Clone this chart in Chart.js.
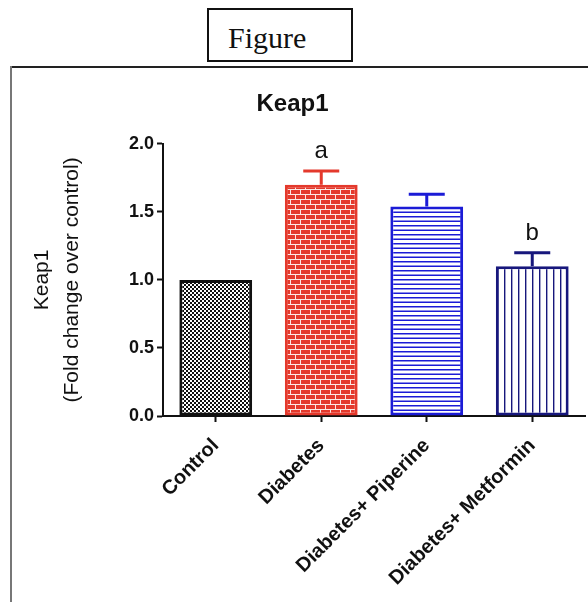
<!DOCTYPE html>
<html>
<head>
<meta charset="utf-8">
<script src="https://cdn.jsdelivr.net/npm/chart.js@4.4.0/dist/chart.umd.min.js"></script>
<style>
body { margin: 0; background: #fff; }
#wrap { position: relative; width: 588px; height: 602px; overflow: hidden; }
.figbox { position: absolute; left: 207px; top: 8px; width: 142px; height: 50px; border: 2px solid #111; font-family: "Liberation Serif", "Times New Roman", serif; font-size: 30px; line-height: 1; color: #111; }
.figbox span { position: absolute; left: 19px; top: 13px; }
.topline { position: absolute; left: 10px; top: 66px; width: 578px; height: 2px; background: #222; }
.leftline { position: absolute; left: 10px; top: 66px; width: 2px; height: 536px; background: #777; }
canvas { position: absolute; left: 0; top: 0; }
</style>
</head>
<body>
<div id="wrap">
  <div class="figbox"><span>Figure</span></div>
  <div class="topline"></div>
  <div class="leftline"></div>
  <canvas id="myChart" width="588" height="602"></canvas>
</div>
<script>
const categories = ["Control", "Diabetes", "Diabetes+ Piperine", "Diabetes+ Metformin"];
const foldChange = [1.0, 1.70, 1.54, 1.10];
const sem = [0, 0.10, 0.09, 0.10];
const sigLetters = ["", "a", "", "b"];
const yTicks = [0, 0.5, 1.0, 1.5, 2.0];
const barColors = ["#111111", "#e4392c", "#1b1bd6", "#17177c"];
const fillKinds = ["checker", "brick", "hlines", "vlines"];

function makePattern(kind, color) {
	const c = document.createElement("canvas");
	const g = c.getContext("2d");
	if (kind === "checker") {
		c.width = 4; c.height = 4;
		g.fillStyle = "#fff"; g.fillRect(0, 0, 4, 4);
		g.fillStyle = color;
		g.fillRect(0, 0, 2, 2); g.fillRect(2, 2, 2, 2);
	} else if (kind === "brick") {
		c.width = 20; c.height = 10;
		g.fillStyle = color; g.fillRect(0, 0, 20, 10);
		g.fillStyle = "#fde8e4";
		g.fillRect(0, 4, 20, 1); g.fillRect(0, 9, 20, 1);
		g.fillRect(0, 0, 1, 4); g.fillRect(10, 0, 1, 4);
		g.fillRect(5, 5, 1, 4); g.fillRect(15, 5, 1, 4);
	} else if (kind === "hlines") {
		c.width = 4; c.height = 9;
		g.fillStyle = "#fff"; g.fillRect(0, 0, 4, 9);
		g.fillStyle = color;
		g.fillRect(0, 0, 4, 1.5); g.fillRect(0, 4.5, 4, 1.5);
	} else {
		c.width = 7; c.height = 4;
		g.fillStyle = "#fff"; g.fillRect(0, 0, 7, 4);
		g.fillStyle = color;
		g.fillRect(0, 0, 1.4, 4);
	}
	return g.createPattern(c, "repeat");
}

const errorBars = {
	id: "errorBars",
	afterDatasetsDraw(chart) {
		const { ctx, scales: { y } } = chart;
		const meta = chart.getDatasetMeta(0);
		ctx.save();
		meta.data.forEach((bar, i) => {
			const top = y.getPixelForValue(foldChange[i] + sem[i]);
			if (sem[i]) {
				ctx.strokeStyle = barColors[i];
				ctx.lineWidth = 3;
				ctx.beginPath();
				ctx.moveTo(bar.x, bar.y);
				ctx.lineTo(bar.x, top);
				ctx.moveTo(bar.x - 18, top);
				ctx.lineTo(bar.x + 18, top);
				ctx.stroke();
			}
			if (sigLetters[i]) {
				ctx.fillStyle = "#111";
				ctx.font = "24px 'Liberation Sans', Arial, sans-serif";
				ctx.textAlign = "center";
				ctx.textBaseline = "alphabetic";
				ctx.fillText(sigLetters[i], bar.x, top - 13);
			}
		});
		ctx.restore();
	},
};

const ctx = document.getElementById("myChart");

const myChart = new Chart(ctx, {
	type: "bar",
	plugins: [errorBars],
	data: {
		labels: categories,
		datasets: [
			{
				label: "Keap1",
				data: foldChange,
				backgroundColor: fillKinds.map((k, i) => makePattern(k, barColors[i])),
				borderColor: barColors,
				borderWidth: 3,
				borderSkipped: false,
				categoryPercentage: 1,
				barPercentage: 0.69,
			},
		],
	},
	options: {
		responsive: false,
		animation: false,
		devicePixelRatio: 1,
		layout: {
			padding: { top: 80, left: 0, right: 3, bottom: 15 },
		},
		plugins: {
			legend: { display: false },
			tooltip: { enabled: false },
			title: {
				display: true,
				text: "Keap1",
				color: "#111",
				font: { family: "'Liberation Sans', Arial, sans-serif", size: 24, weight: "bold", lineHeight: 1.2 },
				padding: { top: 10, bottom: 25 },
			},
		},
		scales: {
			x: {
				offset: true,
				grid: { display: true, offset: false, drawOnChartArea: false, drawTicks: true, tickLength: 6, tickWidth: 2, tickColor: "#111" },
				border: { display: true, color: "#111", width: 2 },
				ticks: {
					color: "#111",
					autoSkip: false,
					maxRotation: 45,
					minRotation: 45,
					padding: 12,
					font: { family: "'Liberation Sans', Arial, sans-serif", size: 20, weight: "bold" },
				},
				afterFit(scale) { scale.height = 171; },
			},
			y: {
				min: 0,
				max: 2,
				grid: { display: true, drawOnChartArea: false, drawTicks: true, tickLength: 6, tickWidth: 2, tickColor: "#111" },
				border: { display: true, color: "#111", width: 2 },
				afterBuildTicks(scale) { scale.ticks = yTicks.map(v => ({ value: v })); },
				ticks: {
					color: "#111",
					padding: 3,
					font: { family: "'Liberation Sans', Arial, sans-serif", size: 18, weight: "bold" },
					callback: v => Number(v).toFixed(1),
				},
				title: {
					display: true,
					text: ["Keap1", "(Fold change over control)"],
					color: "#111",
					font: { family: "'Liberation Sans', Arial, sans-serif", size: 21, lineHeight: 1.4 },
					padding: { top: 28, bottom: 0 },
				},
				afterFit(scale) { scale.width = 163; },
			},
		},
	},
});
</script>
</body>
</html>
